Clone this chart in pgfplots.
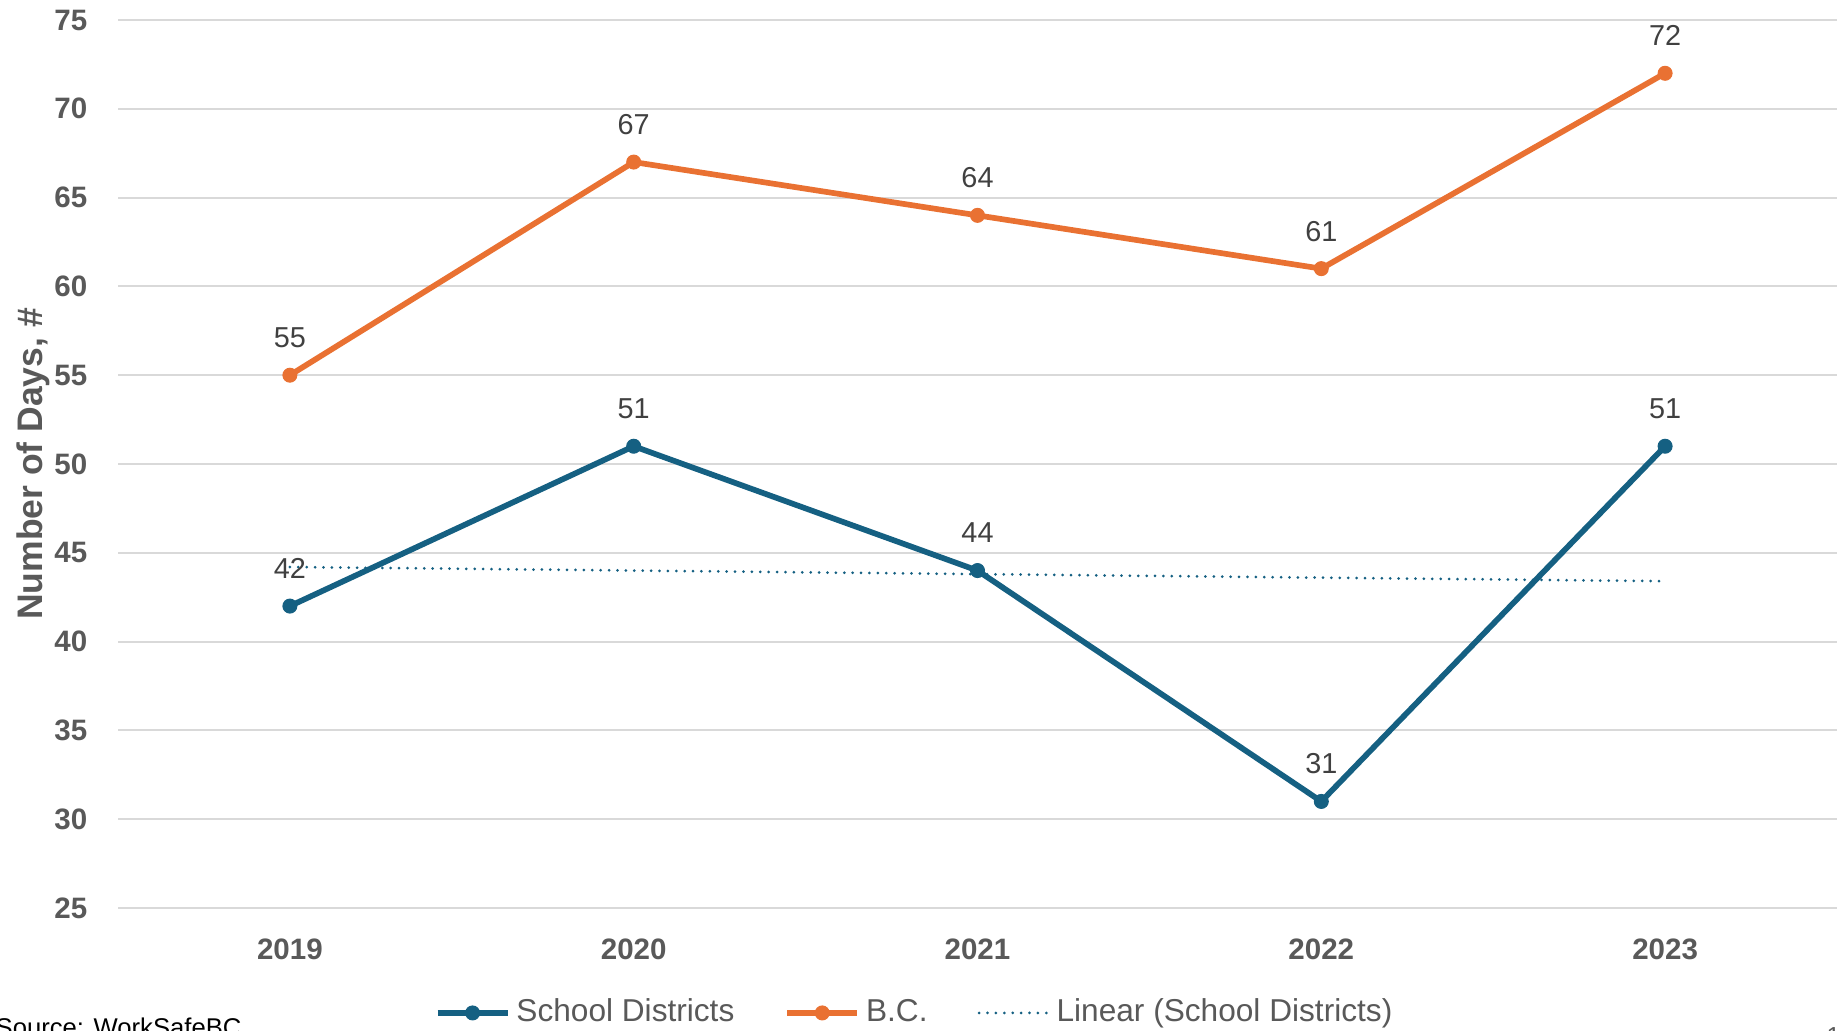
\documentclass[border=0pt]{standalone}
\usepackage{fontspec}
\setmainfont{Liberation Sans}
\usepackage{pgfplots}
\pgfplotsset{compat=1.18}
\definecolor{sdblue}{HTML}{156082}
\definecolor{bcorange}{HTML}{E97132}
\definecolor{axgray}{HTML}{595959}
\definecolor{lblgray}{HTML}{404040}
\definecolor{gridgray}{HTML}{D9D9D9}
\begin{document}
\begin{tikzpicture}
\begin{axis}[
  at={(11.8mm,12.3mm)}, anchor=south west,
  scale only axis, width=171.9mm, height=88.8mm,
  xmin=-0.5, xmax=4.5, ymin=25, ymax=75,
  xtick={0,1,2,3,4}, xticklabels={2019,2020,2021,2022,2023},
  ytick={25,30,...,75},
  axis line style={draw=none},
  major tick length=0pt,
  ymajorgrids, major grid style={color=gridgray, line width=0.2mm},
  /pgf/number format/assume math mode=true,
  ticklabel style={font=\fontsize{8.4}{10}\selectfont\bfseries, text=axgray},
  yticklabel style={inner sep=0pt, anchor=east, xshift=-3mm},
  xticklabel style={inner sep=0pt, anchor=center, yshift=-4.1mm},
  ylabel={Number of Days, \#},
  ylabel style={font=\fontsize{10.1}{12}\selectfont\bfseries, text=axgray, at={(axis description cs:-0.0438,0.5)}, anchor=base, inner sep=0pt},
  legend style={draw=none, fill=none, at={(0.4628,-0.1182)}, anchor=center,
    font=\fontsize{9}{11}\selectfont, text=axgray, inner sep=0pt,
    nodes={inner sep=0pt},
    /tikz/every odd column/.append style={column sep=0.6mm},
    /tikz/every even column/.append style={column sep=5mm}},
  legend columns=3,
  legend image code/.code={\draw[mark repeat=2,mark phase=2,#1] plot coordinates {(0mm,0mm) (3.5mm,0mm) (7.0mm,0mm)};},
  every node near coord/.append style={font=\fontsize{8.2}{10}\selectfont, text=lblgray, anchor=center, yshift=3.75mm, inner sep=0pt},
]
\addplot[sdblue, line width=0.57mm, mark=*, mark size=0.7mm, mark options={solid, line width=0.1mm}, nodes near coords]
  coordinates {(0,42) (1,51) (2,44) (3,31) (4,51)};
\addlegendentry{School Districts}
\addplot[bcorange, line width=0.57mm, mark=*, mark size=0.7mm, mark options={solid, line width=0.1mm}, nodes near coords]
  coordinates {(0,55) (1,67) (2,64) (3,61) (4,72)};
\addlegendentry{B.C.}
\addplot[sdblue, line width=0.3mm, line cap=round, dash pattern=on 0pt off 0.84mm]
  coordinates {(0,44.2) (1,44.0) (2,43.8) (3,43.6) (4,43.4)};
\addlegendentry{Linear (School Districts)}
\end{axis}
\node[anchor=base west, inner sep=0pt, font=\fontsize{7.3}{9}\selectfont, text=black] at (-0.5mm,-0.6mm) {Source: WorkSafeBC};
\node[anchor=north west, inner sep=0pt, font=\fontsize{7}{8}\selectfont, text=axgray] at (182.6mm,0.4mm) {1};
\pgfresetboundingbox
\useasboundingbox (0,0) rectangle (183.9mm,103.1mm);
\end{tikzpicture}
\end{document}
